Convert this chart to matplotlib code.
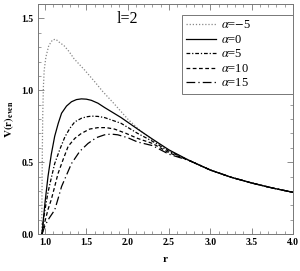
import numpy as np
import matplotlib
matplotlib.use("Agg")
import matplotlib.pyplot as plt
from matplotlib.ticker import MultipleLocator

plt.rcParams['font.family'] = ['Liberation Serif', 'DejaVu Serif']
plt.rcParams['mathtext.fontset'] = 'stix'

# data
labels = [r'$\alpha$=$-$5', r'$\alpha$=0', r'$\alpha$=5', r'$\alpha$=10', r'$\alpha$=15']

r_tail = [2.75, 3.0, 3.25, 3.5, 3.75, 4.0]
v_tail = [0.51, 0.445, 0.395, 0.355, 0.32, 0.29]

r_m5 = [0.96, 0.963, 0.967, 0.972, 0.98, 0.99, 1.01, 1.045, 1.09, 1.13, 1.17, 1.23, 1.29,
        1.35, 1.48, 1.6, 1.7, 1.83, 2.0, 2.15, 2.3, 2.5]
v_m5 = [0.0, 0.25, 0.55, 0.82, 1.02, 1.14, 1.23, 1.31, 1.35, 1.355, 1.335, 1.31, 1.27,
        1.22, 1.14, 1.06, 0.99, 0.91, 0.80, 0.72, 0.655, 0.58]

r_0 = [0.964, 0.98, 1.0, 1.036, 1.076, 1.117, 1.16, 1.2, 1.26, 1.32, 1.38, 1.44, 1.5, 1.56,
       1.64, 1.72, 1.82, 1.92, 2.02, 2.12, 2.3, 2.5]
v_0 = [0.0, 0.1, 0.22, 0.4, 0.555, 0.68, 0.77, 0.84, 0.89, 0.92, 0.935, 0.94, 0.938, 0.93,
       0.91, 0.88, 0.845, 0.81, 0.77, 0.73, 0.66, 0.585]

r_5 = [0.964, 0.976, 1.0, 1.036, 1.076, 1.117, 1.18, 1.24, 1.3, 1.36, 1.44, 1.5, 1.56, 1.64,
       1.72, 1.82, 1.92, 2.02, 2.12, 2.3, 2.5]
v_5 = [0.0, 0.08, 0.17, 0.29, 0.39, 0.49, 0.59, 0.675, 0.735, 0.78, 0.805, 0.815, 0.82, 0.818,
       0.81, 0.79, 0.77, 0.735, 0.70, 0.645, 0.575]

r_10 = [0.964, 1.0, 1.036, 1.076, 1.117, 1.157, 1.22, 1.28, 1.36, 1.44, 1.54, 1.64, 1.74,
        1.84, 1.98, 2.12, 2.3, 2.5]
v_10 = [0.0, 0.09, 0.17, 0.24, 0.33, 0.42, 0.52, 0.61, 0.665, 0.70, 0.73, 0.74, 0.74,
        0.73, 0.70, 0.665, 0.63, 0.565]

r_15 = [0.964, 1.0, 1.05, 1.117, 1.16, 1.2, 1.26, 1.32, 1.42, 1.52, 1.62, 1.72, 1.8, 1.88,
        2.0, 2.12, 2.3, 2.5]
v_15 = [0.0, 0.06, 0.11, 0.167, 0.25, 0.33, 0.41, 0.49, 0.575, 0.63, 0.67, 0.69, 0.695, 0.69,
        0.67, 0.64, 0.615, 0.555]

series = [(r_m5, v_m5), (r_0, v_0), (r_5, v_5), (r_10, v_10), (r_15, v_15)]
styles = [dict(color='#888888', linestyle=(0, (1, 1.5)), lw=0.9),
          dict(color='black', linestyle='-', lw=0.9),
          dict(color='black', linestyle=(0, (3, 1.5, 1, 1.5)), lw=0.9),
          dict(color='black', linestyle=(0, (3, 2)), lw=0.9),
          dict(color='black', linestyle=(0, (7, 2.5, 1, 2.5)), lw=0.9)]

fig = plt.figure(figsize=(3.0, 2.71), dpi=100)
ax = fig.add_axes([38/300, 1-234/271, 255/300, 230/271])

for (rr, vv), lab, st in zip(series, labels, styles):
    ax.plot(list(rr) + r_tail, list(vv) + v_tail, label=lab, **st)

ax.set_xlim(0.915, 4.0)
ax.set_ylim(0.0, 1.6)
ax.xaxis.set_major_locator(MultipleLocator(0.5))
ax.xaxis.set_minor_locator(MultipleLocator(0.1))
ax.yaxis.set_major_locator(MultipleLocator(0.5))
ax.yaxis.set_minor_locator(MultipleLocator(0.1))
ax.tick_params(which='both', direction='in', top=True, right=True, color='#777777',
               labelsize=7, pad=3)
ax.tick_params(which='major', length=4, width=0.6)
ax.tick_params(which='minor', length=2, width=0.5)
for lab in ax.get_xticklabels() + ax.get_yticklabels():
    lab.set_fontweight('bold')
for sp in ax.spines.values():
    sp.set_color('#777777')
    sp.set_linewidth(0.7)

ax.set_xlabel('r', fontsize=8, fontweight='bold', labelpad=6)
ax.set_ylabel(r'$\mathbf{V(r)_{even}}$', fontsize=8, labelpad=4)

ax.text(0.35, 0.935, 'l=2', transform=ax.transAxes, fontsize=11.5, ha='center', va='center')

leg = ax.legend(loc='upper left', bbox_to_anchor=(0.565, 0.635, 0.435, 0.317), mode='expand',
                borderaxespad=0, fontsize=9, handlelength=2.4, handletextpad=0.4,
                labelspacing=0.2, borderpad=0.35, fancybox=False, framealpha=1)
leg.get_frame().set_edgecolor('#777777')
leg.get_frame().set_linewidth(0.7)

fig.savefig('out.png', dpi=100)
